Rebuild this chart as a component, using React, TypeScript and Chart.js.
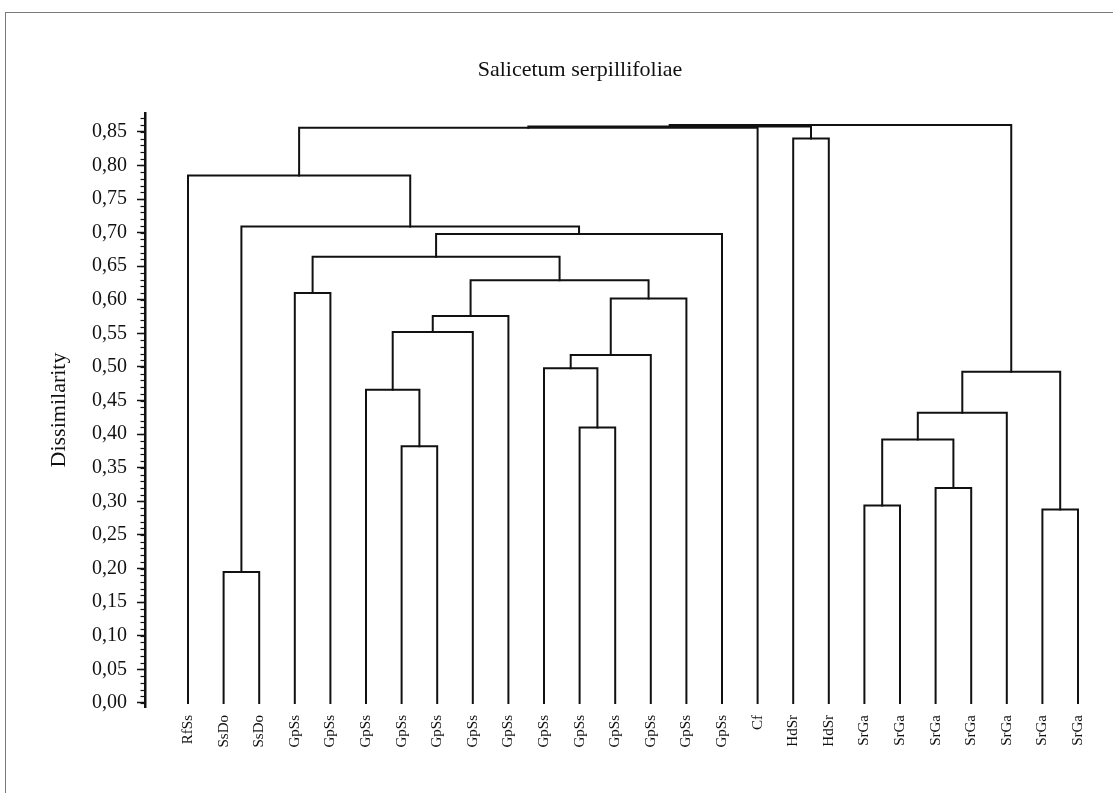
import React, { useEffect, useRef } from 'react';
import { Chart, registerables } from 'chart.js';

Chart.register(...registerables);

const chartTitle = 'Salicetum serpillifoliae';
const yAxisTitle = 'Dissimilarity';

const leafLabels = [
  'RfSs', 'SsDo', 'SsDo',
  'GpSs', 'GpSs', 'GpSs', 'GpSs', 'GpSs', 'GpSs', 'GpSs', 'GpSs', 'GpSs', 'GpSs', 'GpSs', 'GpSs', 'GpSs',
  'Cf', 'HdSr', 'HdSr',
  'SrGa', 'SrGa', 'SrGa', 'SrGa', 'SrGa', 'SrGa', 'SrGa',
];

// Linkage (scipy style): ids 0..25 are leaves, 26+ are merges in order
const mergeLeft = [1, 24, 19, 21, 6, 28, 11, 31, 5, 33, 10, 36, 34, 38, 37, 3, 39, 41, 43, 26, 0, 17, 46, 48, 49];
const mergeRight = [2, 25, 20, 22, 7, 29, 12, 23, 30, 27, 32, 13, 8, 9, 14, 4, 40, 42, 15, 44, 45, 18, 16, 47, 35];
const mergeHeight = [
  0.195, 0.288, 0.294, 0.32, 0.382, 0.392, 0.41, 0.432, 0.466, 0.493, 0.498, 0.518, 0.552,
  0.576, 0.602, 0.61, 0.629, 0.664, 0.698, 0.709, 0.785, 0.84, 0.856, 0.858, 0.86,
];

const yMin = -0.006;
const yMax = 0.878;
const yMajorStep = 0.05;
const yMinorStep = 0.01;
const xMin = -1.208;
const xMax = 25.618;

const SERIF = "'Liberation Serif', 'Times New Roman', serif";
const INK = '#111';

function buildSegments() {
  const pos: number[] = leafLabels.map((_, i) => i);
  const hgt: number[] = leafLabels.map(() => 0);
  const segs: { x: number; y: number }[][] = [];
  mergeLeft.forEach((a, k) => {
    const b = mergeRight[k];
    const h = mergeHeight[k];
    segs.push([
      { x: pos[a], y: hgt[a] },
      { x: pos[a], y: h },
      { x: pos[b], y: h },
      { x: pos[b], y: hgt[b] },
    ]);
    pos.push((pos[a] + pos[b]) / 2);
    hgt.push(h);
  });
  return segs;
}

const minorTicksPlugin = {
  id: 'minorTicks',
  afterDraw(chart: any) {
    const s = chart.scales.y;
    const ctx = chart.ctx;
    ctx.save();
    ctx.strokeStyle = INK;
    ctx.lineWidth = 1.2;
    for (let i = 0; i * yMinorStep <= yMax + 1e-9; i++) {
      const v = i * yMinorStep;
      const y = Math.round(s.getPixelForValue(v)) + 0.5;
      ctx.beginPath();
      ctx.moveTo(s.right - 4.5, y);
      ctx.lineTo(s.right, y);
      ctx.stroke();
    }
    ctx.restore();
  },
};

export default function App() {
  const ref = useRef<HTMLCanvasElement | null>(null);

  useEffect(() => {
    if (!ref.current) return;
    const segs = buildSegments();
    const chart = new Chart(ref.current, {
      type: 'line',
      data: {
        datasets: segs.map((seg) => ({
          data: seg,
          borderColor: INK,
          borderWidth: 2,
          pointRadius: 0,
          fill: false,
          tension: 0,
          borderCapStyle: 'square',
        })),
      },
      options: {
        responsive: false,
        animation: false,
        events: [],
        layout: { padding: { left: 60, right: 13, top: 0, bottom: 0 }, autoPadding: false },
        plugins: {
          legend: { display: false },
          tooltip: { enabled: false },
          title: {
            display: true,
            text: chartTitle,
            color: INK,
            font: { family: SERIF, size: 22, weight: 'normal' },
            padding: { top: 57, bottom: 29.6 },
          },
        },
        scales: {
          x: {
            type: 'linear',
            min: xMin,
            max: xMax,
            grid: { display: false },
            border: { display: false },
            afterBuildTicks: (s: any) => {
              s.ticks = leafLabels.map((_, i) => ({ value: i }));
            },
            afterFit: (s: any) => {
              s.height = 86;
            },
            ticks: {
              autoSkip: false,
              maxRotation: 90,
              minRotation: 90,
              padding: 0,
              color: INK,
              font: { family: SERIF, size: 15 },
              callback: (v: any) => leafLabels[v as number] ?? '',
            },
          },
          y: {
            type: 'linear',
            min: yMin,
            max: yMax,
            afterFit: (s: any) => {
              s.width = 85;
            },
            grid: {
              drawOnChartArea: false,
              drawTicks: true,
              tickLength: 8,
              tickWidth: 1.5,
              tickColor: INK,
            },
            border: { display: true, color: INK, width: 2.5 },
            ticks: {
              stepSize: yMajorStep,
              includeBounds: false,
              padding: 10,
              color: INK,
              font: { family: SERIF, size: 20 },
              callback: (v: any) => Number(v).toFixed(2).replace('.', ','),
            },
            title: {
              display: true,
              text: yAxisTitle,
              color: INK,
              font: { family: SERIF, size: 22 },
              padding: { top: -14, bottom: 0 },
            },
          },
        },
      } as any,
      plugins: [minorTicksPlugin],
    });
    return () => chart.destroy();
  }, []);

  return (
    <div
      style={{
        position: 'fixed',
        left: 0,
        top: 0,
        width: 1113,
        height: 793,
        background: '#fff',
        overflow: 'hidden',
      }}
    >
      <div
        style={{
          position: 'absolute',
          left: 5,
          top: 12,
          width: 1200,
          height: 900,
          borderTop: '1.5px solid #7a7a7a',
          borderLeft: '1.5px solid #7a7a7a',
        }}
      />
      <canvas
        ref={ref}
        width={1113}
        height={793}
        style={{ position: 'absolute', left: 0, top: 0, width: 1113, height: 793 }}
      />
    </div>
  );
}
